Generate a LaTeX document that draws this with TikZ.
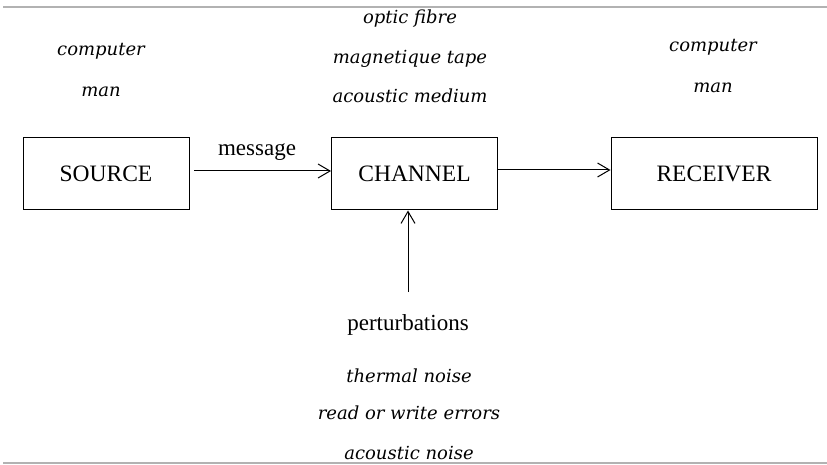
\documentclass[tikz,border=0pt]{standalone}
\usepackage{fontspec}
\setmainfont{Liberation Serif}
\newfontfamily\itfont{DejaVu Serif}[Scale=1.0]
\usetikzlibrary{arrows.meta}
\begin{document}
\begin{tikzpicture}[x=1pt,y=-1pt,
  box/.style={draw, line width=1pt, minimum width=166pt, minimum height=72pt, inner sep=0pt, font=\fontsize{23.5}{27}\selectfont},
  lbl/.style={inner sep=0pt, font=\fontsize{23}{27}\selectfont},
  ital/.style={inner sep=0pt, font=\itfont\itshape\fontsize{18}{22}\selectfont},
  conn/.style={line width=1pt, -{Straight Barb[length=12pt,width=14pt,line width=1pt]}},
  rule/.style={draw=black!30, line width=1.2pt}]
\useasboundingbox (0,0) rectangle (827,465);
\coordinate (tl) at (3,7);
\coordinate (tr) at (827,7);
\coordinate (bl) at (3,463);
\coordinate (br) at (827,463);
\draw[rule] (tl) -- (tr);
\draw[rule] (bl) -- (br);
\node[box] (src) at (106,174) {SOURCE};
\node[box] (chn) at (414.5,174) {CHANNEL};
\node[box, minimum width=206pt] (rcv) at (714,174) {RECEIVER};
\node[lbl] (msg) at (257,152) {message};
\node[lbl] (pert) at (408,325) {perturbations};
\coordinate (ps) at (408,292);
\coordinate (m0) at (194,171);
\draw[conn] (m0) -- (chn.west |- m0);
\draw[conn] (chn.east |- 0,170) -- (rcv.west |- 0,170);
\draw[conn] (ps) -- (ps |- chn.south);
\node[ital] (of) at (410,19) {optic fibre};
\node[ital] (mt) at (410,59) {magnetique tape};
\node[ital] (am) at (410,96) {acoustic medium};
\node[ital] (c1) at (101,51) {computer};
\node[ital] (m1) at (101,92) {man};
\node[ital] (c2) at (713,47) {computer};
\node[ital] (m2) at (713,88) {man};
\node[ital] (tn) at (409,376) {thermal noise};
\node[ital] (rw) at (409,413) {read or write errors};
\node[ital] (an) at (409,453) {acoustic noise};
\end{tikzpicture}
\end{document}
